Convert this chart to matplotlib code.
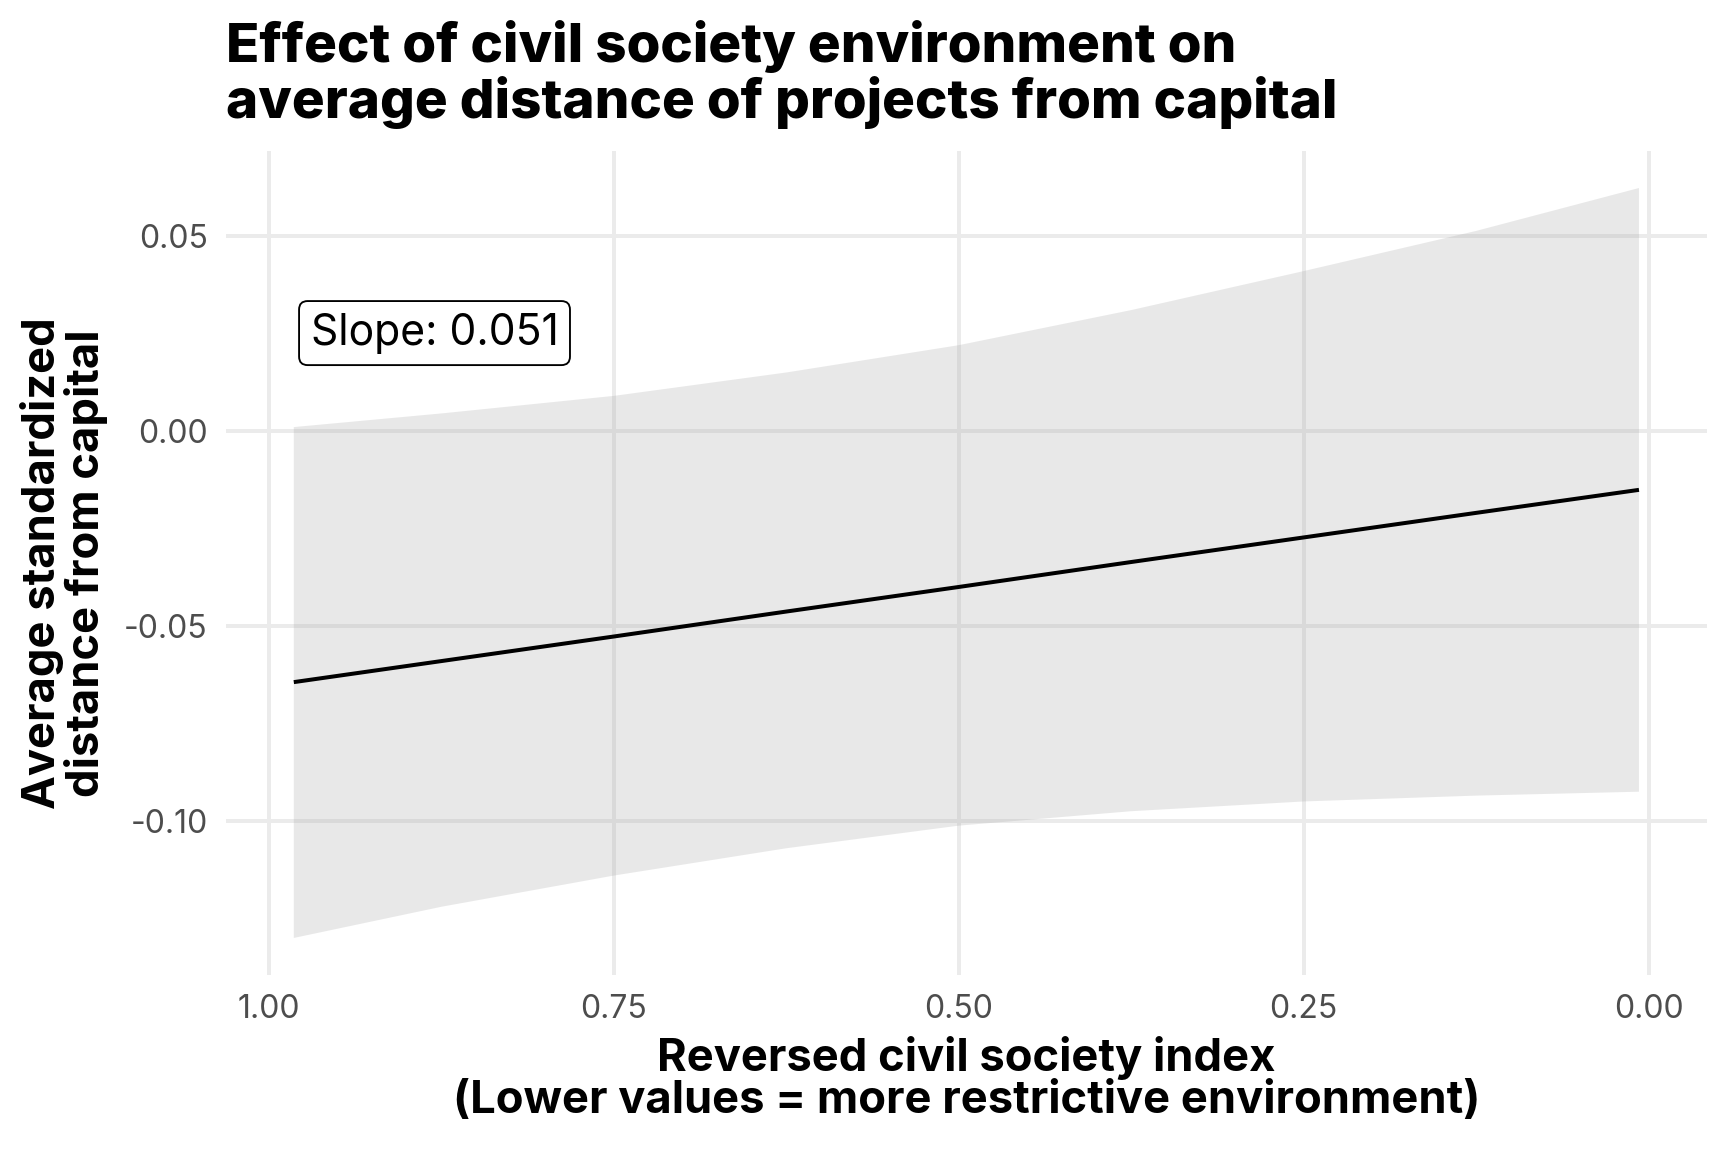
import matplotlib
matplotlib.use("Agg")
import matplotlib.pyplot as plt

plt.rcParams['font.family'] = ['Inter', 'DejaVu Sans']

# Data
x_vals = [0.982, 0.875, 0.75, 0.625, 0.5, 0.375, 0.25, 0.125, 0.007]
fit = [-0.0644, -0.0590, -0.0527, -0.0463, -0.0400, -0.0336, -0.0273, -0.0210, -0.0151]
upper = [0.001, 0.0045, 0.009, 0.015, 0.022, 0.031, 0.041, 0.0513, 0.0623]
lower = [-0.130, -0.1220, -0.114, -0.107, -0.1012, -0.0975, -0.0950, -0.0935, -0.0925]
x_ticks = [1.00, 0.75, 0.50, 0.25, 0.00]
x_tick_labels = ["1.00", "0.75", "0.50", "0.25", "0.00"]
y_ticks = [0.05, 0.00, -0.05, -0.10]
y_tick_labels = ["0.05", "0.00", "-0.05", "-0.10"]
slope_text = "Slope: 0.051"

fig = plt.figure(figsize=(9, 6), dpi=192)
ax = fig.add_axes([0.1309, 0.1533, 0.9876 - 0.1309, 0.8693 - 0.1533])

ax.fill_between(x_vals, lower, upper, facecolor='#999999', alpha=0.22, linewidth=0, zorder=2)
ax.plot(x_vals, fit, color='black', linewidth=1.5, zorder=3, solid_capstyle='butt')

ax.set_xlim(1.031, -0.042)
ax.set_ylim(-0.1396, 0.0719)
ax.set_xticks(x_ticks)
ax.set_xticklabels(x_tick_labels)
ax.set_yticks(y_ticks)
ax.set_yticklabels(y_tick_labels)

ax.grid(True, color='#ebebeb', linewidth=1.5, zorder=1)
ax.set_axisbelow(True)
for s in ax.spines.values():
    s.set_visible(False)
ax.tick_params(axis='both', length=0, labelsize=12, labelcolor='#4d4d4d')
ax.tick_params(axis='x', pad=7)
ax.tick_params(axis='y', pad=7)

ax.set_xlabel("Reversed civil society index\n(Lower values = more restrictive environment)",
              fontsize=17, fontweight='bold', labelpad=4, linespacing=1.0)
ax.set_ylabel("Average standardized\ndistance from capital",
              fontsize=17, fontweight='bold', labelpad=6, linespacing=1.0)

fig.text(226 / 1728, 1 - 20 / 1152, "Effect of civil society environment on\naverage distance of projects from capital",
         fontsize=20.5, fontweight='heavy', ha='left', va='top', linespacing=1.08)

ax.text(0.880, 0.0251, slope_text, fontsize=16, ha='center', va='center', zorder=5,
        bbox=dict(boxstyle='round,pad=0.27,rounding_size=0.2', facecolor='white',
                  edgecolor='black', linewidth=0.7))

fig.savefig("out.png", dpi=192)
